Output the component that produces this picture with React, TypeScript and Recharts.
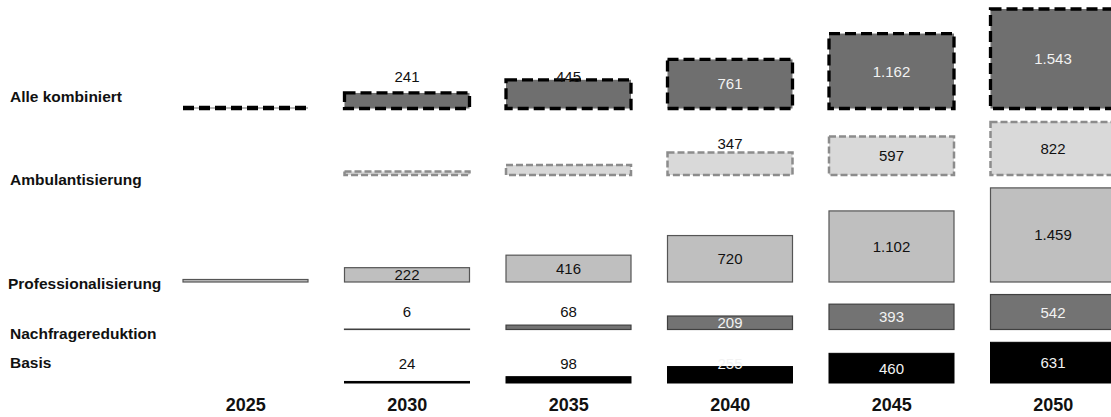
import React from 'react';
import { BarChart, Bar, XAxis, YAxis } from 'recharts';

// ---------- data ----------
const years = ['2025', '2030', '2035', '2040', '2045', '2050'];
const basis = [null, 24, 98, 255, 460, 631];
const nachfragereduktion = [null, 6, 68, 209, 393, 542];
const professionalisierung = [0, 222, 416, 720, 1102, 1459];
const ambulantisierung = [null, 55, 155, 347, 597, 822];
const alleKombiniert = [0, 241, 445, 761, 1162, 1543];
const rowNames = ['Alle kombiniert', 'Ambulantisierung', 'Professionalisierung', 'Nachfragereduktion', 'Basis'];
const ambulantisierungUnlabeledYears = ['2030', '2035'];

const data = years.map((year, i) => ({
  year,
  basis: basis[i],
  nachfragereduktion: nachfragereduktion[i],
  professionalisierung: professionalisierung[i],
  ambulantisierung: ambulantisierung[i],
  alle: alleKombiniert[i],
}));

// ---------- layout / style ----------
const FONT = '"Liberation Sans", Arial, Helvetica, sans-serif';
const PX_PER_UNIT = 0.0645;
const PLOT_TOP = 0;
const PLOT_BOTTOM = 390;
const YEAR_BASELINE = 411;
const DARK_TEXT = '#111111';
const LIGHT_TEXT = '#f2f2f2';

type Row = {
  key: string;
  name: string;
  baselineY: number;
  fill: string;
  stroke: string;
  strokeWidth: number;
  dash?: string;
  labelColor: string;
  liftBelow: number;
  liftTo: number;
  liftColor: string;
  minPointSize: number;
  nameX: number;
  nameBaseline: number;
  hiddenLabels: string[];
};

const rows: Row[] = [
  { key: 'alle', name: rowNames[0], baselineY: 108.5, fill: '#6f6f6f', stroke: '#000000', strokeWidth: 3.3, dash: '11 5', labelColor: LIGHT_TEXT, liftBelow: 30, liftTo: 32, liftColor: DARK_TEXT, minPointSize: 1, nameX: 10, nameBaseline: 102, hiddenLabels: [] },
  { key: 'ambulantisierung', name: rowNames[1], baselineY: 175, fill: '#d9d9d9', stroke: '#8c8c8c', strokeWidth: 2.5, dash: '7 3', labelColor: DARK_TEXT, liftBelow: 30, liftTo: 32, liftColor: DARK_TEXT, minPointSize: 0, nameX: 10, nameBaseline: 185, hiddenLabels: ambulantisierungUnlabeledYears },
  { key: 'professionalisierung', name: rowNames[2], baselineY: 282, fill: '#bfbfbf', stroke: '#555555', strokeWidth: 1.2, labelColor: DARK_TEXT, liftBelow: 0, liftTo: 0, liftColor: DARK_TEXT, minPointSize: 2.5, nameX: 8, nameBaseline: 289, hiddenLabels: [] },
  { key: 'nachfragereduktion', name: rowNames[3], baselineY: 329.5, fill: '#737373', stroke: '#404040', strokeWidth: 1.2, labelColor: LIGHT_TEXT, liftBelow: 8, liftTo: 18, liftColor: DARK_TEXT, minPointSize: 0, nameX: 10, nameBaseline: 338.5, hiddenLabels: [] },
  { key: 'basis', name: rowNames[4], baselineY: 383, fill: '#000000', stroke: '#000000', strokeWidth: 1, labelColor: LIGHT_TEXT, liftBelow: 20, liftTo: 20, liftColor: LIGHT_TEXT, minPointSize: 0, nameX: 10, nameBaseline: 367.5, hiddenLabels: [] },
];

const domainFor = (b: number): [number, number] => [
  -(PLOT_BOTTOM - b) / PX_PER_UNIT,
  (b - PLOT_TOP) / PX_PER_UNIT,
];

const fmt = (v: number) => String(v).replace(/\B(?=(\d{3})+(?!\d))/g, '.');

const makeShape = (row: Row) => (p: any) => {
  const payload = p.payload || {};
  const v = payload[row.key];
  if (v == null) return null;
  const x = p.x;
  const w = p.width;
  let y = p.y;
  let h = p.height;
  if (h < 0) {
    y += h;
    h = -h;
  }
  const bottom = y + h;
  const showLabel = v > 0 && !row.hiddenLabels.includes(payload.year);
  let ly = y + h / 2;
  let color = row.labelColor;
  if (h < row.liftBelow) {
    ly = bottom - row.liftTo;
    color = h < 8 ? DARK_TEXT : row.liftColor;
  }
  return (
    <g>
      <rect
        x={x}
        y={y}
        width={w}
        height={h}
        fill={row.fill}
        stroke={row.stroke}
        strokeWidth={row.strokeWidth}
        strokeDasharray={row.dash}
      />
      {showLabel && (
        <text
          x={x + w / 2}
          y={ly}
          textAnchor="middle"
          dominantBaseline="central"
          fontFamily={FONT}
          fontSize={15}
          fill={color}
        >
          {fmt(v)}
        </text>
      )}
    </g>
  );
};

const YearTick = (p: any) => (
  <text
    x={p.x}
    y={YEAR_BASELINE}
    textAnchor="middle"
    fontFamily={FONT}
    fontSize={18}
    fontWeight={700}
    fill={DARK_TEXT}
  >
    {p.payload && p.payload.value}
  </text>
);

export default function App() {
  return (
    <div style={{ position: 'absolute', left: 0, top: 0, width: 1111, height: 417, overflow: 'hidden', background: '#fff' }}>
      <BarChart
        width={1140}
        height={417}
        data={data}
        margin={{ top: 0, right: 6, bottom: 0, left: 165 }}
        barSize={125}
      >
        {rows.map((r) => (
          <XAxis
            key={'x-' + r.key}
            xAxisId={r.key}
            dataKey="year"
            hide={r.key !== 'basis'}
            tickLine={false}
            axisLine={false}
            interval={0}
            height={27}
            tick={<YearTick />}
          />
        ))}
        {rows.map((r) => (
          <YAxis
            key={'y-' + r.key}
            yAxisId={r.key}
            type="number"
            hide
            domain={domainFor(r.baselineY)}
            allowDataOverflow
          />
        ))}
        {rows.map((r) => (
          <Bar
            key={'b-' + r.key}
            xAxisId={r.key}
            yAxisId={r.key}
            dataKey={r.key}
            isAnimationActive={false}
            minPointSize={r.minPointSize}
            shape={makeShape(r)}
          />
        ))}
      </BarChart>
      <svg width={1111} height={417} style={{ position: 'absolute', left: 0, top: 0, pointerEvents: 'none' }}>
        {rows.map((r) => (
          <text
            key={'n-' + r.key}
            x={r.nameX}
            y={r.nameBaseline}
            fontFamily={FONT}
            fontSize={15.5}
            fontWeight={700}
            fill={DARK_TEXT}
          >
            {r.name}
          </text>
        ))}
      </svg>
    </div>
  );
}
